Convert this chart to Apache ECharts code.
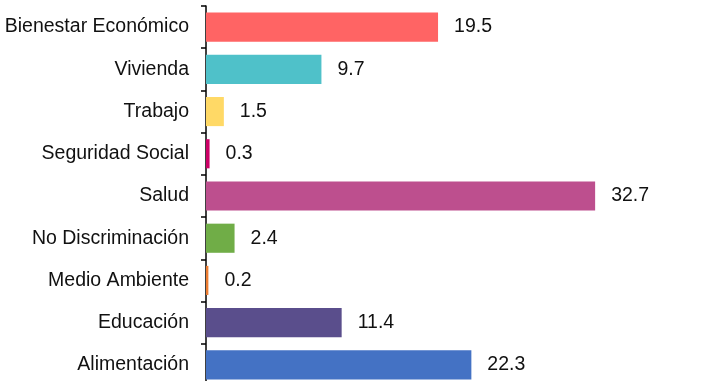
<!DOCTYPE html>
<html>
<head>
<meta charset="utf-8">
<script src="https://cdn.jsdelivr.net/npm/echarts@6/dist/echarts.min.js"></script>
<style>
  html, body { margin: 0; padding: 0; background: #fff; }
  #chart { width: 702px; height: 381px; }
</style>
</head>
<body>
<div id="chart"></div>
<script>
const categories = ['Bienestar Económico', 'Vivienda', 'Trabajo', 'Seguridad Social', 'Salud',
  'No Discriminación', 'Medio Ambiente', 'Educación', 'Alimentación']
const values = [19.5, 9.7, 1.5, 0.3, 32.7, 2.4, 0.2, 11.4, 22.3]
const colors = ['#FF6464', '#4FC1C9', '#FFD966', '#CC0066', '#BD4F8E',
  '#70AD47', '#ED7D31', '#5A4E8C', '#4472C4']

const chart = echarts.init(document.getElementById('chart'), null, {renderer: 'canvas'})

chart.setOption({
  animation: false,
  grid: {left: 206, top: 6, width: 476, height: 380, outerBoundsMode: 'none', containLabel: false},
  xAxis: {
    type: 'value',
    min: 0,
    max: 40,
    show: false
  },
  yAxis: {
    type: 'category',
    data: categories,
    inverse: true,
    axisLine: {show: true, lineStyle: {color: '#000', width: 1.5}},
    axisTick: {show: true, length: 5, lineStyle: {color: '#000', width: 1.5}},
    axisLabel: {
      color: '#111',
      fontFamily: 'Liberation Sans, Arial, sans-serif',
      fontSize: 19.5,
      margin: 17
    }
  },
  series: [{
    type: 'bar',
    data: values.map((v, i) => ({value: v, itemStyle: {color: colors[i]}})),
    barCategoryGap: '31%',
    label: {
      show: true,
      position: 'right',
      distance: 16,
      color: '#111',
      fontFamily: 'Liberation Sans, Arial, sans-serif',
      fontSize: 19.5
    }
  }]
})
</script>
</body>
</html>
